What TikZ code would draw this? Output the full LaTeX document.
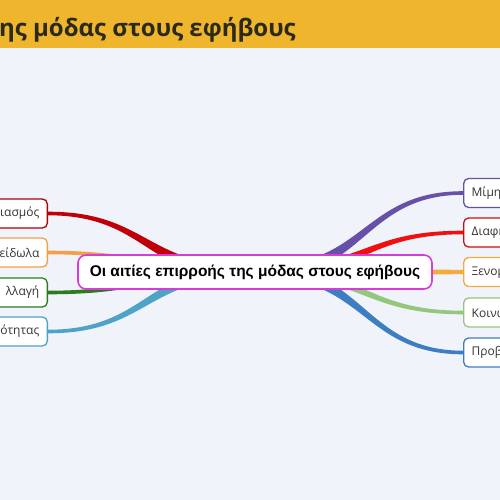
\documentclass[tikz,border=0pt]{standalone}
\usepackage{fontspec}
\setmainfont{Open Sans}
\newfontfamily\rootfont{Liberation Sans}
\usetikzlibrary{calc}
\definecolor{bgc}{HTML}{F0F3FA}
\definecolor{head}{HTML}{EFB52D}
\definecolor{titlec}{HTML}{2B2A1A}
\definecolor{txt}{HTML}{333333}
\definecolor{rootc}{HTML}{D83CD8}
\definecolor{lA}{HTML}{C00008}
\definecolor{lB}{HTML}{F2A04A}
\definecolor{lC}{HTML}{2F7A1F}
\definecolor{lD}{HTML}{4FA3C7}
\definecolor{rA}{HTML}{6750A8}
\definecolor{rB}{HTML}{F01010}
\definecolor{rC}{HTML}{F0AC3C}
\definecolor{rD}{HTML}{94C67E}
\definecolor{rE}{HTML}{3D7EC2}
\pgfdeclarelayer{bglayer}
\pgfdeclarelayer{branchlayer}
\pgfsetlayers{bglayer,branchlayer,main}
\newcommand\branch[5]{%
  \fill[#1] let \p1=(#2), \p2=(#3), \p3=($(\p1)!0.5!(\p2)$) in
  (\x1,\y1+#4) .. controls (\x3,\y1+#4) and (\x3,\y2+#5) .. (\x2,\y2+#5)
  -- (\x2,\y2-#5) .. controls (\x3,\y2-#5) and (\x3,\y1-#4) .. (\x1,\y1-#4) -- cycle;}
\begin{document}
\begin{tikzpicture}[x=1pt,y=-1pt,
  leaf/.style={draw, fill=white, rounded corners=5pt, line width=1.3pt,
    minimum height=29pt, text width=80pt, inner xsep=8pt,
    font=\fontsize{12}{14}\selectfont, text=txt},
  leftleaf/.style={leaf, anchor=east, align=right},
  rightleaf/.style={leaf, anchor=west, align=left},
  rootbox/.style={draw=rootc, fill=white, rounded corners=8pt, line width=1.6pt,
    minimum width=354pt, minimum height=34pt, inner sep=0pt,
    font=\rootfont\bfseries\fontsize{15.5}{18}\selectfont, text=black}]
\useasboundingbox (0,0) rectangle (500,500);
\begin{pgfonlayer}{bglayer}
\fill[bgc] (0,0) rectangle (500,500);
\fill[head] (0,0) rectangle (500,48);
\end{pgfonlayer}
\node[anchor=base east, font=\bfseries\fontsize{24}{28}\selectfont, text=titlec, inner sep=0pt] (title) at (296,37) {Οι αιτίες επιρροής της μόδας στους εφήβους};
\node[rootbox] (root) at (255,272) {Οι αιτίες επιρροής της μόδας στους εφήβους};
\coordinate (lc) at (245,272);
\coordinate (rc) at (265,272);
\node[leftleaf, draw=lA!90!black] (l1) at (48,213.5) {ιασμός};
\node[leftleaf, draw=lB] (l2) at (48,252.5) {είδωλα};
\node[leftleaf, draw=lC] (l3) at (48,292.5) {λλαγή};
\node[leftleaf, draw=lD] (l4) at (48,331.5) {ότητας};
\node[rightleaf, draw=rA] (r1) at (463,193) {Μίμηση};
\node[rightleaf, draw=rB!85!black] (r2) at (463,232.5) {Διαφήμιση};
\node[rightleaf, draw=rC] (r3) at (463,272) {Ξενομανία};
\node[rightleaf, draw=rD] (r4) at (463,312.5) {Κοινωνία};
\node[rightleaf, draw=rE] (r5) at (463,352.5) {Προβολή};
\begin{pgfonlayer}{branchlayer}
\branch{lA}{lc}{l1.east}{6.5pt}{1.8pt}
\branch{lB}{lc}{l2.east}{3pt}{1.8pt}
\branch{lC}{lc}{l3.east}{3.5pt}{1.8pt}
\branch{lD}{lc}{l4.east}{6pt}{1.8pt}
\branch{rA}{rc}{r1.west}{6.5pt}{1.8pt}
\branch{rB}{rc}{r2.west}{5pt}{1.8pt}
\branch{rC}{rc}{r3.west}{3pt}{2.2pt}
\branch{rD}{rc}{r4.west}{4.5pt}{1.8pt}
\branch{rE}{rc}{r5.west}{6pt}{1.8pt}
\end{pgfonlayer}
\end{tikzpicture}
\end{document}
